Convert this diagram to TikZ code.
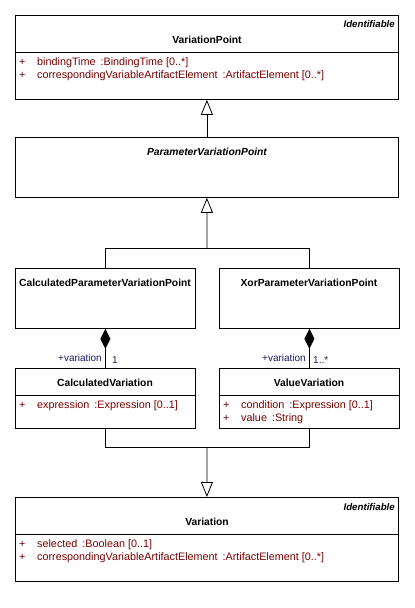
\documentclass[tikz,border=0pt]{standalone}
\usepackage{fontspec}
\setmainfont{Liberation Sans}
\usetikzlibrary{arrows.meta}
\definecolor{attrred}{RGB}{120,0,0}
\definecolor{rolenavy}{RGB}{25,25,105}
\newcommand{\attrline}[2]{\makebox[18pt][l]{+}#1\hspace{5pt}:#2}

\begin{document}
\begin{tikzpicture}[x=1pt,y=-1pt,
        box/.style={draw, line width=0.8pt, fill=white, anchor=north west, inner sep=0pt},
        cname/.style={font=\fontsize{10.3}{12}\selectfont\bfseries, inner sep=0pt},
        stereo/.style={font=\fontsize{9.7}{12}\selectfont\bfseries\itshape, inner sep=0pt, anchor=east},
        attr/.style={font=\fontsize{10.8}{12}\selectfont, text=attrred, inner sep=0pt, anchor=west},
        role/.style={font=\fontsize{10}{12}\selectfont, text=rolenavy, inner sep=0pt},
        line/.style={line width=0.8pt},
        gen/.style={line, -{Triangle[open,length=15pt,width=12pt]}},
        comp/.style={line, -{Diamond[length=20pt,width=10pt]}}]
        \useasboundingbox[fill=white] (0,0) rectangle (415,608);

        \node[box, minimum width=383pt, minimum height=84pt] (vp) at (15,15) {};
        \draw[line] (15,52) -- (398,52);
        \node[stereo] (vpst) at (395,24) {Identifiable};
        \node[cname] (vpname) at (207,40) {VariationPoint};
        \node[attr] (vpa) at (19,63) {\attrline{bindingTime}{BindingTime [0..*]}};
        \node[attr] (vpb) at (19,76) {\attrline{correspondingVariableArtifactElement}{ArtifactElement [0..*]}};

        \node[box, minimum width=383pt, minimum height=60pt] (pvp) at (15,137) {};
        \node[cname, font=\fontsize{10.3}{12}\selectfont\bfseries\itshape] (pvpname) at (207,152) {ParameterVariationPoint};

        \node[box, minimum width=180pt, minimum height=60pt] (cpvp) at (15,268) {};
        \node[cname] (cpvpname) at (105,283) {CalculatedParameterVariationPoint};

        \node[box, minimum width=180pt, minimum height=60pt] (xpvp) at (219,268) {};
        \node[cname] (xpvpname) at (309,283) {XorParameterVariationPoint};

        \node[box, minimum width=180pt, minimum height=60pt] (cv) at (15,368) {};
        \draw[line] (15,395) -- (195,395);
        \node[cname] (cvname) at (105,383) {CalculatedVariation};
        \node[attr] (cva) at (19,406) {\attrline{expression}{Expression [0..1]}};

        \node[box, minimum width=180pt, minimum height=60pt] (vv) at (219,368) {};
        \draw[line] (219,395) -- (399,395);
        \node[cname] (vvname) at (309,383) {ValueVariation};
        \node[attr] (vva) at (223,406) {\attrline{condition}{Expression [0..1]}};
        \node[attr] (vvb) at (223,419) {\attrline{value}{String}};

        \node[box, minimum width=383pt, minimum height=84pt] (var) at (15,497) {};
        \draw[line] (15,534) -- (398,534);
        \node[stereo] (varst) at (395,507) {Identifiable};
        \node[cname] (varname) at (207,522) {Variation};
        \node[attr] (vara) at (19,545) {\attrline{selected}{Boolean [0..1]}};
        \node[attr] (varb) at (19,558) {\attrline{correspondingVariableArtifactElement}{ArtifactElement [0..*]}};

        \draw[gen] (pvp.north) -- (vp.south);

        \coordinate (upper) at (207,248);
        \draw[line] (cpvp.north) |- (upper);
        \draw[line] (xpvp.north) |- (upper);
        \draw[gen] (upper) -- (pvp.south);

        \draw[comp] (cv.north) -- (cpvp.south);
        \node[role, anchor=east] (cvrole) at (102,358) {+variation};
        \node[role, anchor=west] (cvmult) at (112,360) {1};

        \draw[comp] (vv.north) -- (xpvp.south);
        \node[role, anchor=east] (vvrole) at (306,358) {+variation};
        \node[role, anchor=west] (vvmult) at (313,360) {1..*};

        \coordinate (lower) at (207,447);
        \draw[line] (cv.south) |- (lower);
        \draw[line] (vv.south) |- (lower);
        \draw[gen] (lower) -- (var.north);
    \end{tikzpicture}
\end{document}
